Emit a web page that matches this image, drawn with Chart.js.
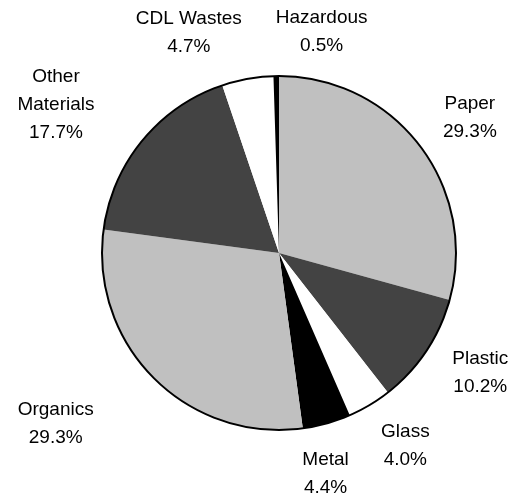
<!DOCTYPE html>
<html>
<head>
<meta charset="utf-8">
<script src="https://cdn.jsdelivr.net/npm/chart.js@4/dist/chart.umd.min.js"></script>
<style>
html,body{margin:0;padding:0;background:#fff;}
canvas{display:block;}
</style>
</head>
<body>
<canvas id="c" width="519" height="499"></canvas>
<script>
// Data
const categories = ["Paper", "Plastic", "Glass", "Metal", "Organics", "Other Materials", "CDL Wastes", "Hazardous"];
const shares = [29.3, 10.2, 4.0, 4.4, 29.3, 17.7, 4.7, 0.5];
const labelLines = [["Paper"], ["Plastic"], ["Glass"], ["Metal"], ["Organics"], ["Other", "Materials"], ["CDL Wastes"], ["Hazardous"]];

// Styles / label layout (relative to the arc geometry)
const sliceColors = ["#c0c0c0", "#434343", "#ffffff", "#000000", "#c0c0c0", "#434343", "#ffffff", "#000000"];
const labelAngleNudge = [1.9, -2.9, -2.5, 3.7, 7.6, -5.8, -12.0, 11.8];
const labelDistFactor = [1.323, 1.324, 1.302, 1.272, 1.589, 1.514, 1.346, 1.273];

const FONT = '19px "Liberation Sans", Arial, sans-serif';
const LINE_H = 28;

const labelPlugin = {
  id: 'pieLabels',
  afterDatasetsDraw(chart) {
    const ctx = chart.ctx;
    const meta = chart.getDatasetMeta(0);
    const first = meta.data[0];
    ctx.save();
    // outer outline
    ctx.beginPath();
    ctx.arc(first.x, first.y, first.outerRadius, 0, Math.PI * 2);
    ctx.lineWidth = 2;
    ctx.strokeStyle = '#000';
    ctx.stroke();
    // labels
    ctx.font = FONT;
    ctx.fillStyle = '#000';
    ctx.textAlign = 'center';
    ctx.textBaseline = 'middle';
    meta.data.forEach((arc, i) => {
      const mid = (arc.startAngle + arc.endAngle) / 2 + labelAngleNudge[i] * Math.PI / 180;
      const d = arc.outerRadius * labelDistFactor[i];
      const cx = arc.x + Math.cos(mid) * d;
      const cy = arc.y + Math.sin(mid) * d;
      const lines = labelLines[i].concat([shares[i].toFixed(1) + '%']);
      const top = cy - (lines.length - 1) * LINE_H / 2;
      lines.forEach((t, j) => ctx.fillText(t, cx, top + j * LINE_H));
    });
    ctx.restore();
  }
};

new Chart(document.getElementById('c'), {
  type: 'pie',
  data: {
    labels: categories,
    datasets: [{
      data: shares,
      backgroundColor: sliceColors,
      borderWidth: 0
    }]
  },
  options: {
    responsive: false,
    animation: false,
    layout: { padding: { left: 102, right: 63, top: 76, bottom: 69 } },
    plugins: { legend: { display: false }, tooltip: { enabled: false } }
  },
  plugins: [labelPlugin]
});
</script>
</body>
</html>
